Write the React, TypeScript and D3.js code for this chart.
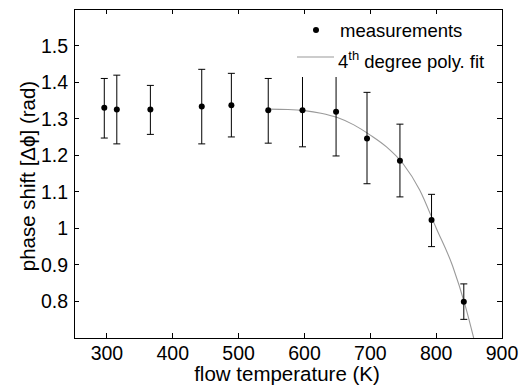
import React from "react";
import * as d3 from "d3";

const temps = [296, 315, 366, 444, 489, 545, 597, 648, 695, 745, 793, 842];
const phase = [1.330, 1.325, 1.325, 1.333, 1.337, 1.323, 1.323, 1.319, 1.246, 1.185, 1.023, 0.799];
const errHigh = [1.410, 1.419, 1.391, 1.435, 1.424, 1.410, 1.423, 1.44, 1.372, 1.285, 1.093, 0.848];
const errLow = [1.247, 1.231, 1.257, 1.231, 1.250, 1.233, 1.223, 1.198, 1.122, 1.086, 0.950, 0.751];

const fitT = [545, 575, 600, 625, 650, 675, 700, 725, 750, 775, 800, 825, 845, 857];
const fitV = [1.326, 1.325, 1.322, 1.315, 1.303, 1.283, 1.255, 1.222, 1.176, 1.105, 1.001, 0.897, 0.783, 0.70];

const xTicks = [300, 400, 500, 600, 700, 800, 900];
const yTicks = [0.8, 0.9, 1.0, 1.1, 1.2, 1.3, 1.4, 1.5];

const W = 522, H = 389;
const L = 74, R = 502, T = 9, B = 338;
const FONT = "'Liberation Sans', Arial, Helvetica, sans-serif";

export default function App() {
  const x = d3.scaleLinear().domain([250, 900]).range([L, R]);
  const y = d3.scaleLinear().domain([0.7, 1.6]).range([B, T]);
  const line = d3
    .line<number>()
    .x((_, i) => x(fitT[i]))
    .y((d) => y(d))
    .curve(d3.curveMonotoneX);
  const fitPath = line(fitV) || "";
  const tickLen = 5;
  const cap = 3.5;
  const fmt = (v: number) => (Math.abs(v - 1) < 1e-9 ? "1" : d3.format(".1f")(v));

  return (
    <div style={{ position: "fixed", left: 0, top: 0 }}>
      <svg width={W} height={H} style={{ display: "block", background: "#fff" }} fontFamily={FONT}>
        <defs>
          <clipPath id="plotClip">
            <rect x={L} y={T} width={R - L} height={B - T} />
          </clipPath>
        </defs>
        <rect x={0} y={0} width={W} height={H} fill="#fff" />
        {/* fit curve */}
        <path d={fitPath} fill="none" stroke="#9a9a9a" strokeWidth={1.1} clipPath="url(#plotClip)" />
        {/* error bars */}
        <g stroke="#000" strokeWidth={1}>
          {temps.map((t, i) => {
            const cx = x(t);
            return (
              <g key={i}>
                <line x1={cx} x2={cx} y1={y(errHigh[i])} y2={y(errLow[i])} />
                <line x1={cx - cap} x2={cx + cap} y1={y(errHigh[i])} y2={y(errHigh[i])} />
                <line x1={cx - cap} x2={cx + cap} y1={y(errLow[i])} y2={y(errLow[i])} />
              </g>
            );
          })}
        </g>
        {temps.map((t, i) => (
          <circle key={i} cx={x(t)} cy={y(phase[i])} r={3} fill="#000" />
        ))}
        {/* legend */}
        <rect x={288} y={15} width={207} height={62} fill="#fff" />
        <circle cx={316} cy={30} r={3} fill="#000" />
        <text x={340} y={37} fontSize={18.5}>measurements</text>
        <line x1={297} x2={334} y1={57} y2={57} stroke="#9a9a9a" strokeWidth={1.1} />
        <text x={338} y={68} fontSize={18.5}>
          4<tspan fontSize={13} dy={-8}>th</tspan>
          <tspan dy={8}> degree poly. fit</tspan>
        </text>
        {/* axes box */}
        <rect x={L} y={T} width={R - L} height={B - T} fill="none" stroke="#000" strokeWidth={1} shapeRendering="crispEdges" />
        <g stroke="#000" strokeWidth={1} shapeRendering="crispEdges">
          {xTicks.map((t) => (
            <g key={t}>
              <line x1={x(t)} x2={x(t)} y1={B} y2={B - tickLen} />
              <line x1={x(t)} x2={x(t)} y1={T} y2={T + tickLen} />
            </g>
          ))}
          {yTicks.map((t) => (
            <g key={t}>
              <line x1={L} x2={L + tickLen} y1={y(t)} y2={y(t)} />
              <line x1={R} x2={R - tickLen} y1={y(t)} y2={y(t)} />
            </g>
          ))}
        </g>
        {xTicks.map((t) => (
          <text key={t} x={x(t)} y={360} fontSize={19.5} textAnchor="middle">{t}</text>
        ))}
        {yTicks.map((t) => (
          <text key={t} x={68} y={y(t) + 7} fontSize={19.5} textAnchor="end">{fmt(t)}</text>
        ))}
        <text x={287} y={381} fontSize={20.5} textAnchor="middle">flow temperature (K)</text>
        <text transform={`translate(35, 176) rotate(-90)`} fontSize={20.5} textAnchor="middle">
          phase shift [Δϕ] (rad)
        </text>
      </svg>
    </div>
  );
}
